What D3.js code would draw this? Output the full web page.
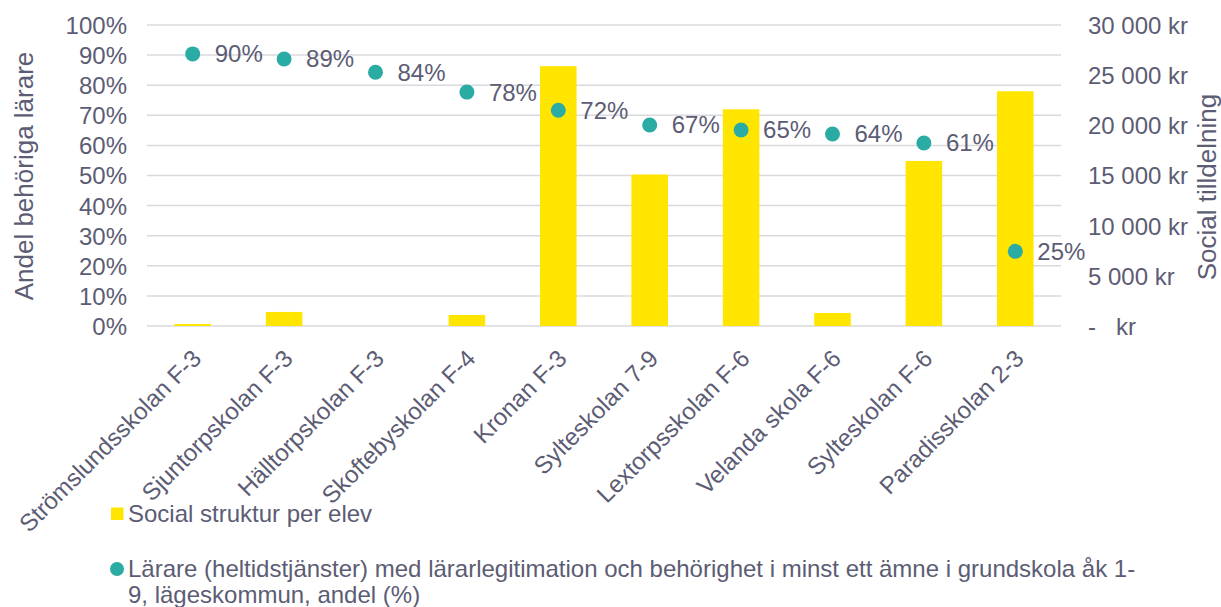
<!DOCTYPE html>
<html>
<head>
<meta charset="utf-8">
<script src="https://cdn.jsdelivr.net/npm/d3@7"></script>
<style>
  body { margin: 0; background: #fff; }
  text { font-family: "Liberation Sans", Arial, sans-serif; fill: #5c5c74; }
</style>
</head>
<body>
<script>
// skolor (kategorier)
var schools = ["Strömslundsskolan F-3", "Sjuntorpskolan F-3", "Hälltorpskolan F-3", "Skoftebyskolan F-4",
               "Kronan F-3", "Sylteskolan 7-9", "Lextorpsskolan F-6", "Velanda skola F-6",
               "Sylteskolan F-6", "Paradisskolan 2-3"];
// social struktur per elev (kr)
var socialKr = [200, 1400, 0, 1100, 25900, 15100, 21600, 1300, 16450, 23400];
// andel behöriga lärare
var share = [0.904, 0.887, 0.843, 0.777, 0.717, 0.668, 0.651, 0.638, 0.608, 0.248];
var leftTicks = [0, 0.1, 0.2, 0.3, 0.4, 0.5, 0.6, 0.7, 0.8, 0.9, 1];
var rightTicks = [0, 5000, 10000, 15000, 20000, 25000, 30000];
var barName = "Social struktur per elev";
var dotName = "Lärare (heltidstjänster) med lärarlegitimation och behörighet i minst ett ämne i grundskola åk 1-";
var dotName2 = "9, lägeskommun, andel (%)";

(function(){
    var width = 1221, height = 607;
    var left = 147, right = 1061, top = 25, bottom = 326;

    var svg = d3.select("body").append("svg")
        .attr("width", width)
        .attr("height", height);

    var x = d3.scaleBand().domain(schools).range([left, right]).paddingInner(0.6).paddingOuter(0.3);
    var yL = d3.scaleLinear().domain([0, 1]).range([bottom, top]);
    var yR = d3.scaleLinear().domain([0, 30000]).range([bottom, top]);

    //gridlines
    svg.append("g").selectAll("line")
        .data(leftTicks)
        .enter().append("line")
        .attr("x1", left).attr("x2", right)
        .attr("y1", function(d){ return yL(d); })
        .attr("y2", function(d){ return yL(d); })
        .attr("stroke", "#d9d9df")
        .attr("stroke-width", 1.5);

    //left axis
    var axL = svg.append("g")
        .attr("transform", "translate(" + (left - 20) + ",0)")
        .call(d3.axisLeft(yL).tickValues(leftTicks).tickSize(0).tickPadding(0).tickFormat(d3.format(".0%")));
    axL.select(".domain").remove();
    axL.selectAll("text").style("font-size", "24px").attr("dy", "0.35em");

    //right axis
    var axR = svg.append("g")
        .attr("transform", "translate(1088,0)")
        .call(d3.axisRight(yR).tickValues(rightTicks).tickSize(0).tickPadding(0)
            .tickFormat(function(d){
                if (d === 0) return "-   kr";
                return d3.format(",")(d).replace(/,/g, " ") + " kr";
            }));
    axR.select(".domain").remove();
    axR.selectAll("text").style("font-size", "24px").attr("dy", "0.35em")
        .style("white-space", "pre");

    //bars
    svg.append("g").selectAll("rect")
        .data(schools)
        .enter().append("rect")
        .attr("x", function(d){ return x(d); })
        .attr("width", x.bandwidth())
        .attr("y", function(d, i){ return yR(socialKr[i]); })
        .attr("height", function(d, i){ return bottom - yR(socialKr[i]); })
        .attr("fill", "#ffe500");

    //dots
    svg.append("g").selectAll("circle")
        .data(schools)
        .enter().append("circle")
        .attr("cx", function(d){ return x(d) + x.bandwidth() / 2; })
        .attr("cy", function(d, i){ return yL(share[i]); })
        .attr("r", 7.5)
        .attr("fill", "#2aaba3");

    //dot labels
    svg.append("g").selectAll("text")
        .data(schools)
        .enter().append("text")
        .attr("x", function(d){ return x(d) + x.bandwidth() / 2 + 22; })
        .attr("y", function(d, i){ return yL(share[i]); })
        .attr("dy", "0.35em")
        .style("font-size", "24px")
        .text(function(d, i){ return Math.round(share[i] * 100) + "%"; });

    //category labels
    svg.append("g").selectAll("text")
        .data(schools)
        .enter().append("text")
        .attr("transform", function(d){
            return "translate(" + (x(d) + x.bandwidth() / 2 + 10) + "," + 360 + ") rotate(-45)";
        })
        .attr("text-anchor", "end")
        .style("font-size", "24px")
        .text(function(d){ return d; });

    //axis titles
    svg.append("text")
        .attr("transform", "translate(33,176) rotate(-90)")
        .attr("text-anchor", "middle")
        .style("font-size", "26px")
        .text("Andel behöriga lärare");
    svg.append("text")
        .attr("transform", "translate(1216,187) rotate(-90)")
        .attr("text-anchor", "middle")
        .style("font-size", "26px")
        .text("Social tilldelning");

    //legend
    svg.append("rect")
        .attr("x", 111).attr("y", 507.5).attr("width", 12.5).attr("height", 12.5)
        .attr("fill", "#ffe500");
    svg.append("text")
        .attr("x", 128).attr("y", 522)
        .style("font-size", "24px")
        .text(barName);
    svg.append("circle")
        .attr("cx", 117).attr("cy", 569).attr("r", 7)
        .attr("fill", "#2aaba3");
    svg.append("text")
        .attr("x", 128).attr("y", 577)
        .style("font-size", "24px")
        .text(dotName);
    svg.append("text")
        .attr("x", 128).attr("y", 603)
        .style("font-size", "24px")
        .text(dotName2);
})();
</script>
</body>
</html>
